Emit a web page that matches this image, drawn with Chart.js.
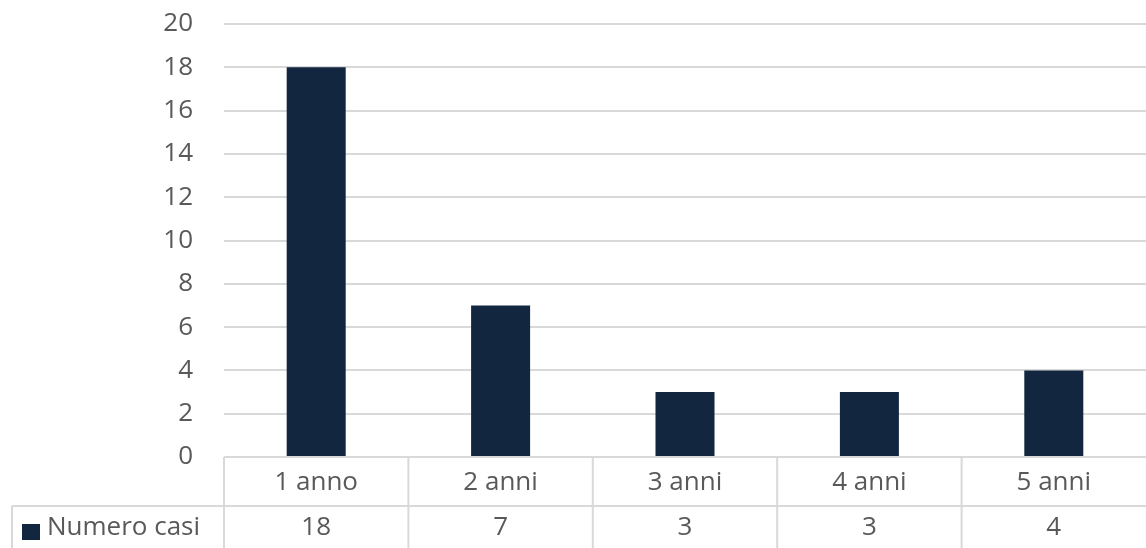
<!DOCTYPE html>
<html>
<head>
<meta charset="utf-8">
<script src="https://cdn.jsdelivr.net/npm/chart.js@4/dist/chart.umd.min.js"></script>
<style>
  html, body { margin: 0; padding: 0; background: #fff; }
  #wrap { width: 1146px; height: 548px; }
</style>
</head>
<body>
<div id="wrap"><canvas id="casiChart" width="1146" height="548"></canvas></div>
<script>
const categories = ["1 anno", "2 anni", "3 anni", "4 anni", "5 anni"];
const numeroCasi = [18, 7, 3, 3, 4];
const seriesName = "Numero casi";
const yTicks = [0, 2, 4, 6, 8, 10, 12, 14, 16, 18, 20];

const barColor = "#12263f";
const textColor = "#595959";
const lineColor = "#d9d9d9";
const fontFamily = "'Open Sans', 'Liberation Sans', sans-serif";
const fontSize = 26;

// data table under the plot, like Excel's
const dataTable = {
  id: "dataTable",
  afterDraw(chart) {
    const c = chart.ctx;
    const x = chart.scales.x;
    const area = chart.chartArea;
    const top = area.bottom;
    const mid = top + 49;
    const bottom = chart.height;
    const half = (x.getPixelForValue(1) - x.getPixelForValue(0)) / 2;

    c.save();
    c.strokeStyle = lineColor;
    c.lineWidth = 2;
    c.beginPath();
    c.moveTo(area.left, top); c.lineTo(area.right, top);
    c.moveTo(12, mid); c.lineTo(area.right, mid);
    c.moveTo(12, mid); c.lineTo(12, bottom);
    categories.forEach((_, i) => {
      const edge = x.getPixelForValue(i) - half;
      c.moveTo(edge, top); c.lineTo(edge, bottom);
    });
    c.stroke();

    c.fillStyle = textColor;
    c.font = fontSize + "px " + fontFamily;
    c.textAlign = "center";
    c.textBaseline = "middle";
    categories.forEach((cat, i) => {
      const cx = x.getPixelForValue(i);
      c.fillText(cat, cx, (top + mid) / 2 + 1);
      c.fillText(String(numeroCasi[i]), cx, (mid + bottom) / 2 + 1);
    });

    c.fillStyle = barColor;
    c.fillRect(22, 524, 18, 16);
    c.fillStyle = textColor;
    c.textAlign = "left";
    c.fillText(seriesName, 47, (mid + bottom) / 2 + 1);
    c.restore();
  }
};

new Chart(document.getElementById("casiChart"), {
  type: "bar",
  data: {
    labels: categories,
    datasets: [{
      label: seriesName,
      data: numeroCasi,
      backgroundColor: barColor,
      barPercentage: 0.32,
      categoryPercentage: 1.0
    }]
  },
  options: {
    responsive: false,
    animation: false,
    layout: { padding: { top: 24, bottom: 91, right: 0, left: 0 } },
    scales: {
      x: { display: false },
      y: {
        min: 0,
        max: 20,
        afterFit(scale) {
          scale.width = 224;
          scale.paddingTop = 0;
          scale.paddingBottom = 0;
        },
        afterBuildTicks(scale) { scale.ticks = yTicks.map(v => ({ value: v })); },
        border: { display: false },
        grid: { color: lineColor, lineWidth: 2, drawTicks: false },
        ticks: {
          color: textColor,
          padding: 31,
          font: { family: fontFamily, size: fontSize }
        }
      }
    },
    plugins: {
      legend: { display: false },
      tooltip: { enabled: false }
    }
  },
  plugins: [dataTable]
});
</script>
</body>
</html>
